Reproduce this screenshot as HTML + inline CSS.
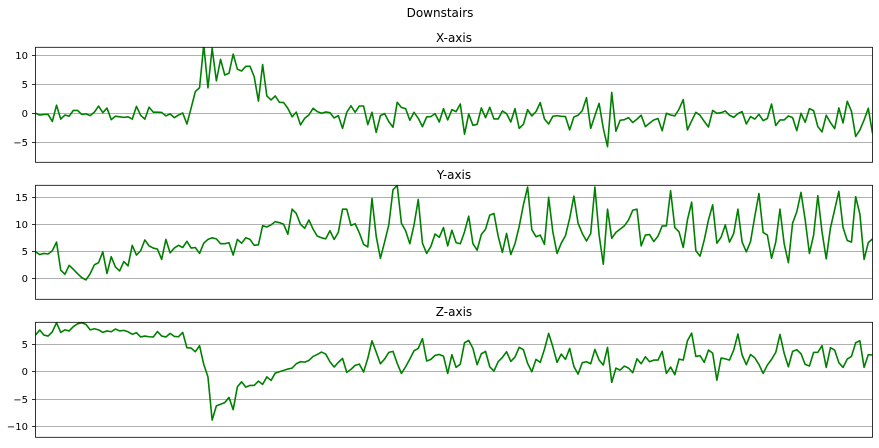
<!DOCTYPE html>
<html>
<head>
<meta charset="utf-8">
<title>Downstairs</title>
<style>
html,body{margin:0;padding:0;background:#fff;width:879px;height:448px;overflow:hidden}
svg{display:block;filter:blur(0.3px)}
text{font-family:"DejaVu Sans","Liberation Sans",sans-serif;fill:#000}
</style>
</head>
<body>
<svg id="chart" xmlns="http://www.w3.org/2000/svg" width="879" height="448" viewBox="0 0 879 448">
  <text x="440" y="17" font-size="12" text-anchor="middle">Downstairs</text>
  <text x="454" y="42" font-size="12" text-anchor="middle">X-axis</text>
  <text x="454" y="179" font-size="12" text-anchor="middle">Y-axis</text>
  <text x="454" y="316" font-size="12" text-anchor="middle">Z-axis</text>
</svg>
<script>
const xAxisValues = [
0,-0.3,-0.2,-0.2,-1.4,1.4,-1,-0.3,-0.5,0.5,0.5,-0.2,-0.1,-0.4,0.2,1.25,0.1,0.9,-1.1,-0.5,
-0.6,-0.7,-0.6,-1,1.2,-0.35,-1,1.05,0.2,0.2,0.15,-0.45,-0.1,-0.75,-0.3,0.05,-1.85,0.9,3.75,4.4,
11.8,4.4,11.2,5.6,9.3,6.6,6.9,10.2,7.6,7.3,8.1,8.1,6.3,2.1,8.4,3,2.3,3,1.9,1.85,
0.85,-0.6,0.2,-2,
-0.86,-0.29,0.86,0.29,0,0.23,0.11,-0.8,-0.4,-2.6,0.17,1.3,0.17,1.26,1.26,-1.95,0.17,-3.3,-0.4,-0.06,
-1.44,-2.4,1.9,1,0.8,-1.2,0.17,-0.86,-2.3,-0.63,-0.57,-0.06,-1.5,0.8,-1.15,0.63,0.29,1.6,-3.6,-0.11,
-2.07,-1.9,0.92,-0.75,1.03,-0.98,-0.98,0.4,-0.06,-1.5,0.8,-2.6,-1.9,0.63,-0.46,0.29,1.84,-0.98,-1.84,-0.52,
-0.4,-0.52,-0.57,-2.87,-0.63,-0.34,0.46,2.7,
-2.6,-0.4,1.7,-2.6,-5.75,3.6,-3.1,-1.2,-1.1,-0.75,-1.6,-1,-0.34,-2.3,-1.7,-1.15,-0.9,-3,0,-0.29,
-0.46,0.7,2.36,-2.87,-1.3,0.17,-0.34,-1.4,-2.36,0.5,0,0.1,0.4,-0.34,-0.7,-0.06,0.29,-1.84,-0.57,-1,
-0.17,-1.26,-0.9,1.6,-2.1,-1.15,-1.15,-0.46,-0.75,-3,0,-1.55,0.8,0.46,-2.3,-3.2,-0.34,-1.6,-2.64,0.92,
-1.67,2.07,0.34,-4,-2.87,-1.15,0.86,-3.45];
const yAxisValues = [
4.9,4.4,4.6,4.5,5.1,6.7,1.5,0.75,2.4,1.67,0.86,0.12,-0.3,0.86,2.5,2.9,4.9,0.9,4,2.1,
1.36,3.1,2.3,6.1,4.3,5.1,7.1,6,5.6,5.4,3.5,7.2,4.7,5.6,6.1,5.7,6.85,5.6,5.7,4.6,
6.5,7.2,7.5,7.3,6.4,6.4,6.6,4.3,7.2,6.5,7.5,7.2,6.1,6.2,9.75,9.5,9.9,10.5,10.3,10,
8.15,12.8,12,10,9.26,10.8,9.1,
7.8,7.5,7.3,8.8,7.2,8.5,12.8,12.8,9.8,10.1,8.4,6.3,5.8,14.8,7.8,3.7,6.7,9.9,16.4,17.2,
10.2,8.8,6.4,9.9,14.6,6.5,4.6,5.9,8.2,7.6,9.4,6,8.9,6.6,6.4,8.6,11.5,6.4,5.2,8.1,
9.1,11.7,12,7.8,4.8,8.3,4.4,6.4,9.6,13.6,16.9,9,7.7,8,6.3,15,8.6,4.6,6.5,7.9,
11.1,15.2,10.2,8.3,6.9,8.3,
16.9,8,2.6,12.8,7.4,8.5,9.1,9.7,10.8,12.6,12.8,6,8,8.1,6.8,7.8,9.7,9.7,16.2,9.4,
8.6,5.7,10.8,14.1,5.1,4.1,7.1,10.8,13.6,6.5,7.6,9.9,6.7,8.3,12.8,6.7,4.9,6.8,11.4,15.7,
8.5,8,3.7,6.7,12.8,6.4,2.9,10.2,12.3,15.9,10.8,4.6,8,15.3,8.6,3.6,9.3,12.7,16.1,9.4,
7,6.7,15.1,11.9,3.5,6.6,7.3];
const zAxisValues = [
6.65,7.56,6.65,6.46,7.25,8.9,7.13,7.6,7.4,8.2,8.7,8.9,8.6,7.6,7.8,7.6,7.13,7.4,7.25,7.75,
7.4,7.5,7.25,6.8,7.07,6.3,6.46,6.34,6.3,7.3,6.46,6.3,6.95,6.4,6.34,7.13,4.33,4.27,3.6,4.7,
1.3,-1,-8.9,-6.3,-6,-5.7,-4.76,-7,-2.8,-1.9,-2.87,-2.56,-2.56,-1.77,-2.38,-1,-1.65,-0.3,-0.06,0.18,
0.43,0.6,1.4,1.77,
1.7,2,2.74,3.1,3.54,3.17,1.77,0.8,1.65,2.38,-0.18,0.37,1.1,1.34,-0.12,2.38,5.6,3.54,1.4,2.26,
3.48,3.66,1.46,-0.37,0.85,2.26,3.78,4.2,6,1.9,2.2,2.93,3.1,2.8,-0.37,3.05,0.73,1.34,5.24,5.67,
4.2,1.22,3.23,3.66,0.85,0.06,1.77,2.56,3.6,1.83,2.62,4.4,3.96,1.46,-0.06,2.2,1.65,4.02,6.95,4.5,
1.65,3.17,2.2,4.2,0.91,-0.49,1.6,1.77,1.4,
4.02,2.07,1.16,4.39,-2,0.6,0.24,0.98,0.6,-0.24,2.3,1.4,2.68,1.77,2.07,2.07,3.66,-0.37,0.8,-0.6,
2.26,2.07,5.6,7,2.74,2.87,1.65,3.9,3.35,-1.6,2.44,2.3,2.07,3.9,6.83,3,1.22,3.1,2.5,1.28,
-0.37,1.16,2.2,3.48,6.77,3.3,0.85,3.66,3.96,3.23,1.28,0.98,3.48,3.48,4.7,0.73,4.33,3.9,1.6,0.73,
2.26,2.74,5.24,5.6,0.73,3.05,3];
const xAxisTicks = [-5, 0, 5, 10];
const yAxisTicks = [0, 5, 10, 15];
const zAxisTicks = [-10, -5, 0, 5];

const NS = 'http://www.w3.org/2000/svg';
const svg = document.getElementById('chart');
const LEFT = 35.5, RIGHT = 872.5;

function make(tag, attrs, parent) {
  const el = document.createElementNS(NS, tag);
  for (const k in attrs) el.setAttribute(k, attrs[k]);
  parent.appendChild(el);
  return el;
}

function drawPanel(prefix, values, ticks, top, bottom, yMin, yMax) {
  const scaleY = v => bottom - (v - yMin) / (yMax - yMin) * (bottom - top);
  const scaleX = i => LEFT + i / (values.length - 1) * (RIGHT - LEFT);

  const group = make('g', {}, svg);
  
  

  const clip = make('clipPath', { id: prefix + '-clip' }, group);
  make('rect', { x: LEFT, y: top, width: RIGHT - LEFT, height: bottom - top }, clip);

  ticks.forEach(t => {
    const y = Math.round(scaleY(t)) + 0.5;
    const grid = make('line', { x1: LEFT, x2: RIGHT, y1: y, y2: y, stroke: '#b0b0b0', 'stroke-width': 1 }, group);
    
    
    const mark = make('line', { x1: LEFT - 3.5, x2: LEFT, y1: y, y2: y, stroke: '#000', 'stroke-width': 0.8 }, group);
    
    
    const label = make('text', { x: LEFT - 7.5, y: y + 3.7, 'font-size': 10, 'text-anchor': 'end' }, group);
    
    
    label.textContent = String(t).replace('-', '\u2212');
  });

  const line = make('polyline', {
    points: values.map((v, i) => scaleX(i).toFixed(2) + ',' + scaleY(v).toFixed(2)).join(' '),
    fill: 'none', stroke: '#008000', 'stroke-width': 1.6, 'stroke-linejoin': 'round',
    'clip-path': 'url(#' + prefix + '-clip)'
  }, group);
  
  

  const frame = make('rect', { x: LEFT, y: top, width: RIGHT - LEFT, height: bottom - top, fill: 'none', stroke: '#000', 'stroke-width': 0.8 }, group);
  
  
}

drawPanel('x-axis', xAxisValues, xAxisTicks, 47.3, 162.3, -8.45, 11.38);
drawPanel('y-axis', yAxisValues, yAxisTicks, 185.3, 299.3, -3.89, 17.22);
drawPanel('z-axis', zAxisValues, zAxisTicks, 322.3, 437.3, -12.05, 8.98);
</script>
</body>
</html>
